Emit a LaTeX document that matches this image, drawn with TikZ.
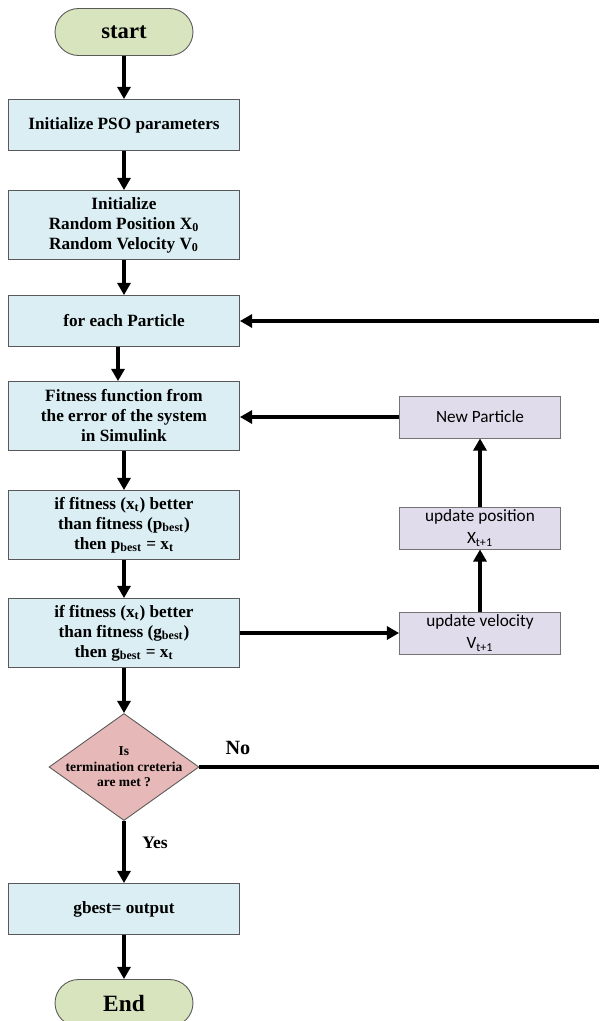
\documentclass[tikz,border=0pt]{standalone}
\usepackage{fontspec}
\setmainfont{Liberation Serif}
\newfontfamily\calibri{Carlito}
\usetikzlibrary{arrows.meta,shapes.geometric}

\definecolor{termgreen}{HTML}{D7E4BD}
\definecolor{stepblue}{HTML}{DAEEF3}
\definecolor{decpink}{HTML}{E6B9B8}
\definecolor{updlilac}{HTML}{E0DCEB}

\tikzset{
    flow/.style={line width=2.4pt,-{Triangle[length=7pt,width=7.5pt]}},
    link/.style={line width=2.4pt},
    terminal/.style={draw=black!65,line width=0.5pt,fill=termgreen,minimum width=2.76cm,
        minimum height=0.94cm,rounded corners=0.47cm,inner sep=0pt},
    stepbox/.style={draw=black!65,line width=0.5pt,fill=stepblue,minimum width=4.62cm,
        minimum height=1.02cm,inner sep=0pt,align=center,
        font=\bfseries\fontsize{9.8}{11.4}\selectfont},
    tallbox/.style={stepbox,minimum height=1.38cm},
    decision/.style={diamond,draw=black!65,line width=0.5pt,fill=decpink,inner sep=0pt,
        minimum width=3cm,minimum height=2.14cm},
    dectext/.style={align=center,font=\bfseries\fontsize{7.7}{8.8}\selectfont},
    update/.style={draw=black!55,line width=0.5pt,fill=updlilac,minimum width=3.22cm,
        minimum height=0.84cm,inner sep=0pt,align=center,
        font=\calibri\fontsize{9.8}{12.5}\selectfont},
    answer/.style={font=\bfseries\fontsize{10}{12}\selectfont}
}

\begin{document}
\begin{tikzpicture}[x=0.02cm,y=-0.02cm]
        \useasboundingbox (0,0) rectangle (599,1021);

        %%%%%%%%% Main column %%%%%%%%%
        \node[terminal,font=\bfseries\fontsize{12.9}{14}\selectfont] (start) at (124,32) {start};
        \node[stepbox] (init) at (124,125) {Initialize PSO parameters};
        \node[tallbox] (rand) at (124,225) {Initialize\\Random Position X\textsubscript{0}\\Random Velocity V\textsubscript{0}};
        \node[stepbox] (each) at (124,321) {for each Particle};
        \node[tallbox] (fit) at (124,416) {Fitness function from\\the error of the system\\in Simulink};
        \node[tallbox] (pbest) at (124,525) {if fitness (x\textsubscript{t}) better\\than fitness (p\textsubscript{best})\\then p\textsubscript{best} = x\textsubscript{t}};
        \node[tallbox] (gbest) at (124,633) {if fitness (x\textsubscript{t}) better\\than fitness (g\textsubscript{best})\\then g\textsubscript{best} = x\textsubscript{t}};
        \node[decision] (stop) at (124,767) {};
        \node[dectext] (stoptext) at (stop) {Is\\termination creteria\\are met ?};
        \node[stepbox] (out) at (124,909) {gbest= output};
        \node[terminal,font=\bfseries\fontsize{13.3}{15}\selectfont] (end) at (124,1003) {End};

        %%%%%%%%% Update column %%%%%%%%%
        \node[update] (newp) at (480,417) {New Particle};
        \node[update] (pos) at (480,528) {update position\\X\textsubscript{t+1}};
        \node[update] (vel) at (480,633) {update velocity\\V\textsubscript{t+1}};

        %%%%%%%%% Loop ends %%%%%%%%%
        \coordinate (loopin) at (599,321);
        \coordinate (loopout) at (599,767);

        %%%%%%%%% Arrows %%%%%%%%%
        \draw[flow] (start) -- (init);
        \draw[flow] (init) -- (rand);
        \draw[flow] (rand) -- (each);
        \draw[flow] ([xshift=-0.12cm]each.south) -- ([xshift=-0.12cm]fit.north);
        \draw[flow] (fit) -- (pbest);
        \draw[flow] (pbest) -- (gbest);
        \draw[flow] (gbest) -- (stop);
        \draw[flow] (stop) -- (out);
        \draw[flow] (out) -- (end);

        \draw[flow] (gbest) -- (vel);
        \draw[flow] (vel) -- (pos);
        \draw[flow] (pos) -- (newp);
        \draw[flow] (newp.west) -- (newp.west -| fit.east);

        \draw[link] (stop.east) -- (loopout);
        \draw[flow] (loopin) -- (each);

        %%%%%%%%% Labels %%%%%%%%%
        \node[answer,font=\bfseries\fontsize{11.5}{13}\selectfont] (no) at (238,748) {No};
        \node[answer] (yes) at (155,843) {Yes};
\end{tikzpicture}
\end{document}
